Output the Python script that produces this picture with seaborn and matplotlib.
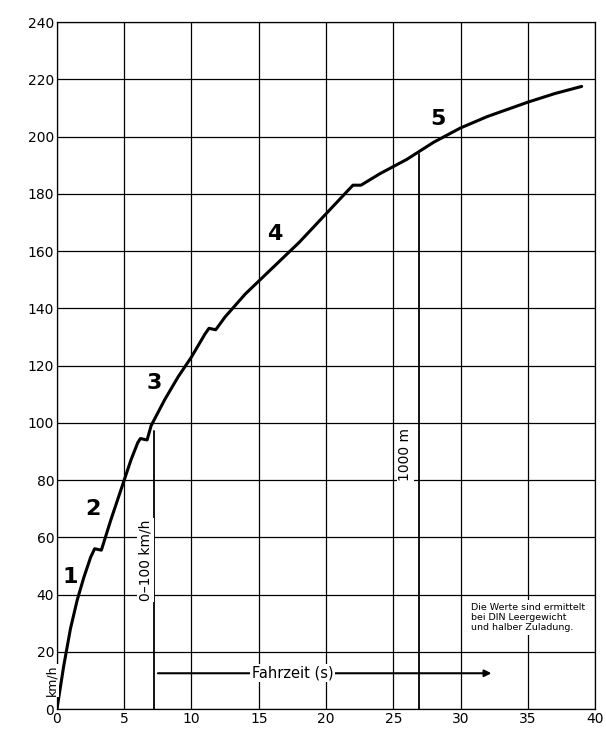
import matplotlib.pyplot as plt
import seaborn as sns
import pandas as pd

# Beschleunigungskurve (Zeit in s, Geschwindigkeit in km/h)
zeit = [0, 0.5, 1, 1.5, 2, 2.5, 2.8, 3.3, 4, 5, 5.5, 6, 6.2, 6.7, 7, 8, 9, 10,
        11, 11.3, 11.8, 12.5, 14, 16, 18, 20, 22, 22.6, 24, 26, 28, 30, 32, 35, 37, 39]
geschw = [0, 15, 28, 38, 46, 53, 56, 55.5, 66, 80, 87, 93, 94.5, 94, 99, 108, 116, 123,
          131, 133, 132.5, 137, 145, 154, 163, 173, 183, 183, 187, 192, 198, 203, 207, 212, 215, 217.5]

gaenge = ["1", "2", "3", "4", "5"]
gang_x = [1.0, 2.7, 7.2, 16.2, 28.3]
gang_y = [46, 70, 114, 166, 206]

sns.set_style("white")
plt.rcParams["text.color"] = "black"
plt.rcParams["xtick.color"] = "black"
plt.rcParams["ytick.color"] = "black"
fig = plt.figure(figsize=(6.06, 7.34), dpi=100)
ax = fig.add_axes([0.094, 0.034, 0.888, 0.936])

for xv in range(0, 41, 5):
    ax.axvline(xv, color="black", lw=0.9, zorder=1)
for yv in range(0, 241, 20):
    ax.axhline(yv, color="black", lw=0.9, zorder=1)

df = pd.DataFrame({"t": zeit, "v": geschw})
sns.lineplot(data=df, x="t", y="v", color="black", lw=2.2, ax=ax, zorder=3)

for g, gx, gy in zip(gaenge, gang_x, gang_y):
    ax.text(gx, gy, g, fontsize=16, fontweight="bold", ha="center", va="center",
            color="black", zorder=4)

# Markierungen 0-100 km/h und 1000 m
ax.plot([7.2, 7.2], [0, 97], color="black", lw=1.3, zorder=3)
ax.text(6.6, 52, "0–100 km/h", rotation=90, ha="center", va="center", fontsize=10,
        bbox=dict(fc="white", ec="none", pad=1), zorder=4)
ax.plot([26.9, 26.9], [0, 194], color="black", lw=1.3, zorder=3)
ax.text(25.9, 89, "1000 m", rotation=90, ha="center", va="center", fontsize=10,
        bbox=dict(fc="white", ec="none", pad=1), zorder=4)

ax.annotate("", xy=(32.5, 12.5), xytext=(7.3, 12.5),
            arrowprops=dict(arrowstyle="-|>", color="black", lw=1.5), zorder=4)
ax.text(17.5, 12.5, "Fahrzeit (s)", ha="center", va="center", fontsize=10.5,
        bbox=dict(fc="white", ec="none", pad=1), zorder=5)
ax.text(-0.4, 10, "km/h", rotation=90, ha="center", va="center", fontsize=9,
        bbox=dict(fc="white", ec="none", pad=0.5), zorder=4)
ax.text(30.8, 32, "Die Werte sind ermittelt\nbei DIN Leergewicht\nund halber Zuladung.",
        fontsize=6.8, ha="left", va="center", linespacing=1.2,
        bbox=dict(fc="white", ec="none", pad=2), zorder=4)

ax.set_xlim(0, 40)
ax.set_ylim(0, 240)
ax.set_xticks(range(0, 41, 5))
ax.set_yticks(range(0, 241, 20))
ax.tick_params(labelsize=10, length=0, pad=2)
ax.set_xlabel("")
ax.set_ylabel("")
for s in ax.spines.values():
    s.set_linewidth(0.9)
    s.set_color("black")

fig.savefig("out.png", dpi=100)
